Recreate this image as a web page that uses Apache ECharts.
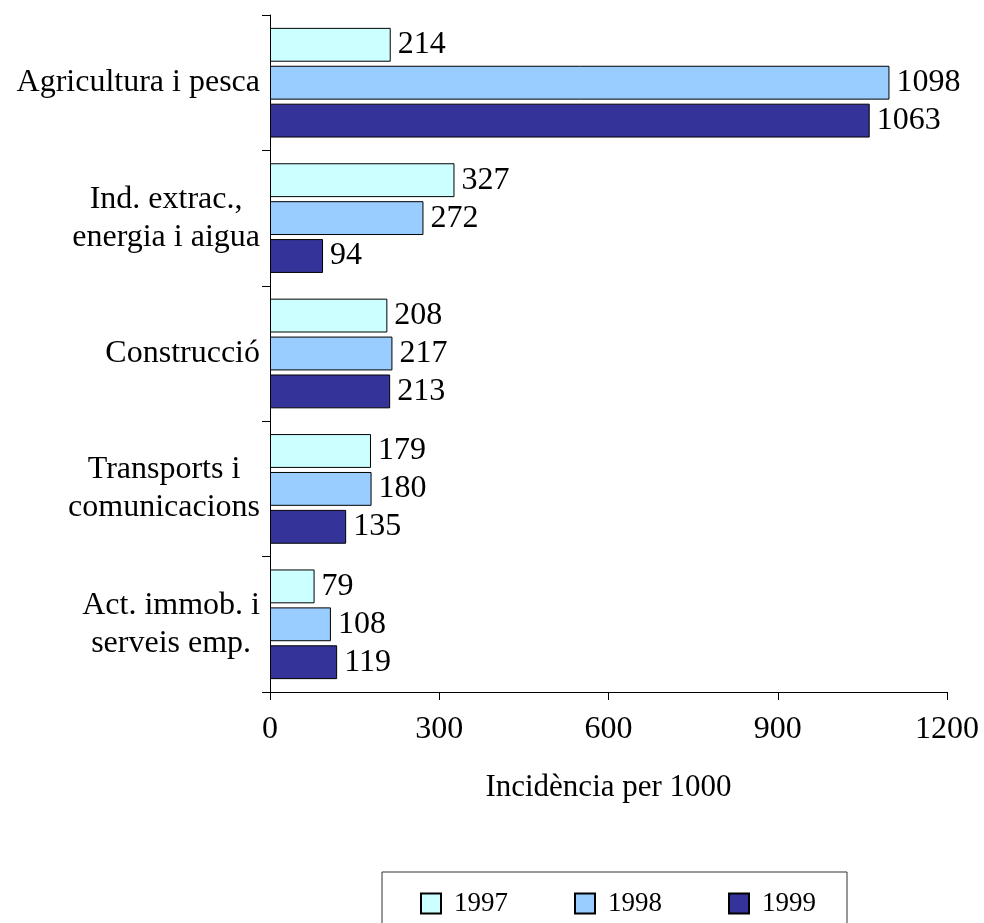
<!DOCTYPE html>
<html>
<head>
<meta charset="utf-8">
<script src="https://cdn.jsdelivr.net/npm/echarts@6/dist/echarts.min.js"></script>
<style>
html,body{margin:0;padding:0;background:#fff;}
#chart{width:984px;height:923px;}
</style>
</head>
<body>
<div id="chart"></div>
<script>
const categories = ['Agricultura i pesca', 'Ind. extrac.,\nenergia i aigua', 'Construcció', 'Transports i\ncomunicacions', 'Act. immob. i\nserveis emp.'];
const years = ['1997', '1998', '1999'];
const values1997 = [214, 327, 208, 179, 79];
const values1998 = [1098, 272, 217, 180, 108];
const values1999 = [1063, 94, 213, 135, 119];
const xTicks = [0, 300, 600, 900, 1200];
const axisTitle = 'Incidència per 1000';

const FONT = '"Liberation Serif", "Times New Roman", serif';
const colors = ['#CCFFFF', '#99CCFF', '#333399'];
const seriesValues = [values1997, values1998, values1999];

const chart = echarts.init(document.getElementById('chart'));
chart.setOption({
  animation: false,
  backgroundColor: '#ffffff',
  textStyle: { fontFamily: FONT, color: '#000' },
  grid: { left: 270, right: 37, top: 15, bottom: 231, containLabel: false },
  legend: {
    data: years.map(function (y) { return { name: y, icon: 'rect' }; }),
    left: 382, top: 872,
    orient: 'horizontal',
    padding: [18, 31, 12, 38],
    itemWidth: 20, itemHeight: 20,
    itemGap: 66,
    borderColor: '#333', borderWidth: 1,
    textStyle: { fontFamily: FONT, fontSize: 27, color: '#000', padding: [0, 0, 0, 8] }
  },
  xAxis: {
    type: 'value',
    min: xTicks[0], max: xTicks[xTicks.length - 1], interval: xTicks[1] - xTicks[0],
    axisLine: { show: true, lineStyle: { color: '#000', width: 1 } },
    axisTick: { show: true, length: 8, lineStyle: { color: '#000' } },
    splitLine: { show: false },
    axisLabel: { fontFamily: FONT, fontSize: 32, color: '#000', margin: 22,
      formatter: function (v) { return String(v); } },
    name: axisTitle,
    nameLocation: 'middle',
    nameGap: 80,
    nameTextStyle: { fontFamily: FONT, fontSize: 31, color: '#000' }
  },
  yAxis: {
    type: 'category',
    inverse: true,
    data: categories,
    axisLine: { show: true, lineStyle: { color: '#000', width: 1 } },
    axisTick: { show: true, length: 8, lineStyle: { color: '#000' } },
    splitLine: { show: false },
    axisLabel: {
      margin: 10,
      formatter: function (v) {
        return v.split('\n').map(function (l) { return '{c|' + l + '}'; }).join('\n');
      },
      rich: {
        c: { fontFamily: FONT, fontSize: 32, color: '#000', align: 'center', lineHeight: 38 }
      }
    }
  },
  series: years.map(function (y, i) {
    return {
      name: y,
      type: 'bar',
      data: seriesValues[i],
      barGap: '12%',
      barCategoryGap: '19%',
      itemStyle: { color: colors[i], borderColor: '#000', borderWidth: 1 },
      label: {
        show: true, position: 'right', distance: 7,
        fontFamily: FONT, fontSize: 32, color: '#000'
      }
    };
  })
});
</script>
</body>
</html>
